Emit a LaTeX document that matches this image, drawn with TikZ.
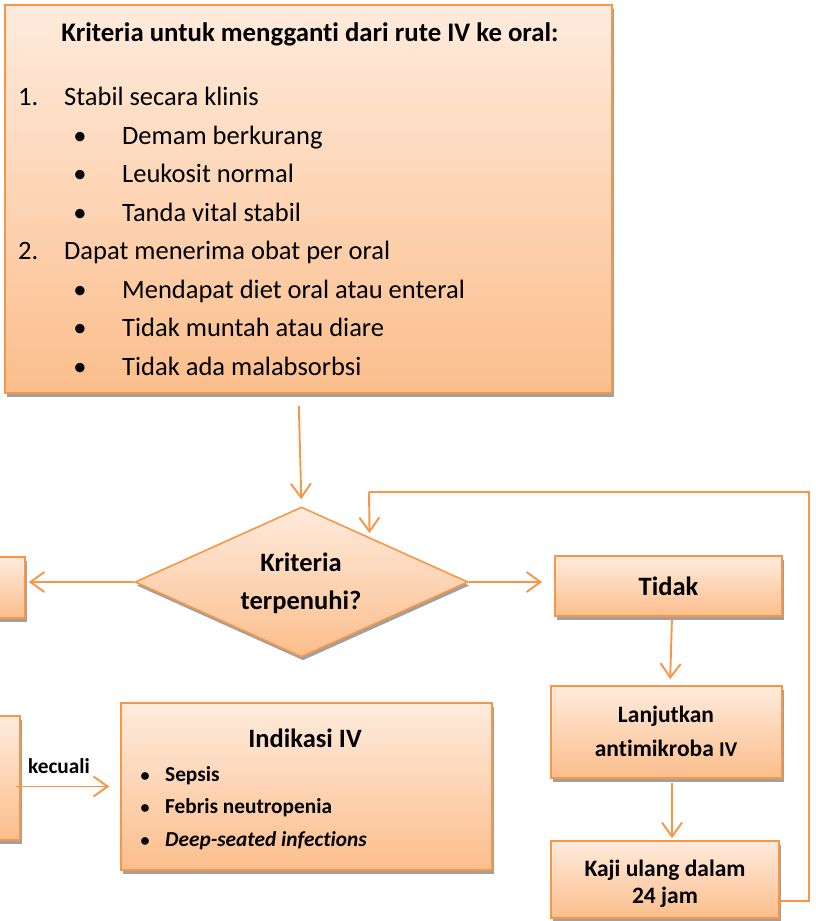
\documentclass[tikz,border=0pt]{standalone}
\usepackage{fontspec}
\setmainfont[Ligatures=NoCommon]{Carlito}
\usetikzlibrary{shapes.geometric,shadows,arrows.meta,calc}

\definecolor{edge}{HTML}{F79646}
\definecolor{peachtop}{HTML}{FEEBDD}
\definecolor{peachbot}{HTML}{FBBE8C}
\definecolor{shade}{HTML}{A0A0A0}

\newcommand\fsBody{\fontsize{26.5}{31}\selectfont}
\newcommand\fsHead{\fontsize{26.8}{31}\selectfont}
\newcommand\fsBox{\fontsize{23.5}{34}\selectfont}
\newcommand\fsSmall{\fontsize{21.3}{25}\selectfont}

\tikzset{
  card/.style={rectangle, draw=edge, line width=1.6pt, top color=peachtop,
    bottom color=peachbot, inner sep=0pt,
    drop shadow={shadow xshift=1.5pt, shadow yshift=-3.5pt, fill=shade, opacity=1}},
  decision/.style={diamond, draw=edge, line width=1.6pt, top color=peachtop,
    bottom color=peachbot, inner sep=0pt, aspect=2.22,
    drop shadow={shadow xshift=1.5pt, shadow yshift=-3.5pt, fill=shade, opacity=1}},
  flow/.style={draw=edge, line width=1.9pt,
    -{Straight Barb[length=14pt,width=20pt]}},
  loopline/.style={draw=edge, line width=1.9pt},
  txt/.style={inner sep=0pt, text=black},
}

\begin{document}
\begin{tikzpicture}[x=1pt, y=-1pt]
\useasboundingbox (0,0) rectangle (815,921);
\clip (0,0) rectangle (815,921);

% criteria box
\node[card, minimum width=607pt, minimum height=388pt] (crit) at (308.5,199) {};
\node[txt, anchor=base, font=\fsHead\bfseries] (ctitle) at (310,41)
  {Kriteria untuk mengganti dari rute IV ke oral:};
\node[txt, anchor=base west, font=\fsBody] (n1) at (18,105.5) {1.};
\node[txt, anchor=base west, font=\fsBody] (t1) at (64,105.5) {Stabil secara klinis};
\node[txt, anchor=base west, font=\fsBody] (n2) at (18,259.5) {2.};
\node[txt, anchor=base west, font=\fsBody] (t2) at (64,259.5) {Dapat menerima obat per oral};
\foreach \y/\s [count=\k] in {144/Demam berkurang, 182.5/Leukosit normal, 221/Tanda vital stabil,
    298/Mendapat diet oral atau enteral, 336.5/Tidak muntah atau diare, 375/Tidak ada malabsorbsi} {
  \node[txt, anchor=base, font=\fsBody] (bul\k) at (80,\y) {•};
  \node[txt, anchor=base west, font=\fsBody] (item\k) at (122,\y) {\s};
}

% decision
\node[decision, minimum width=333pt, minimum height=150pt] (dec) at (301.5,582) {};
\node[txt, anchor=base, font=\fsBody\bfseries] (dl1) at (301,571) {Kriteria};
\node[txt, anchor=base, font=\fsBody\bfseries] (dl2) at (301,609) {terpenuhi?};

% boxes on the left edge
\node[card, minimum width=100pt, minimum height=61pt] (yes) at (-25,587.5) {};
\node[card, minimum width=100pt, minimum height=124pt] (oral) at (-30,778) {};

% IV indications
\node[card, minimum width=371pt, minimum height=167pt] (indik) at (306.5,786.5) {};
\node[txt, anchor=base, font=\fsBody\bfseries] (ititle) at (305,747) {Indikasi IV};
\foreach \y/\s [count=\k] in {781/Sepsis, 813/Febris neutropenia, 846/\textit{Deep-seated infections}} {
  \node[txt, anchor=base, font=\fontsize{18}{22}\selectfont\bfseries] (ib\k) at (145,\y) {•};
  \node[txt, anchor=base west, font=\fsSmall\bfseries] (it\k) at (165,\y) {\s};
}

% right column
\node[card, minimum width=227pt, minimum height=60pt] (tidak) at (668.5,586) {};
\node[txt, font=\fsBody\bfseries] (tidakt) at (668.5,586) {Tidak};
\node[card, minimum width=231pt, minimum height=92pt] (lanj) at (666.5,732) {};
\node[txt, anchor=base, font=\fsBox\bfseries] (lanj1) at (666,722) {Lanjutkan};
\node[txt, anchor=base, font=\fsBox\bfseries] (lanj2) at (666,756) {antimikroba {\fontsize{21}{24}\selectfont IV}};
\node[card, minimum width=228pt, minimum height=77pt] (kaji) at (665,879.5) {};
\node[txt, anchor=base, font=\fsBox\bfseries] (kaji1) at (665,876) {Kaji ulang dalam};
\node[txt, anchor=base, font=\fsBox\bfseries] (kaji2) at (665,903) {24 jam};

% connectors
\draw[flow, shorten <=12pt, shorten >=7pt] ([xshift=-10pt]crit.south) -- (dec.north);
\draw[flow, shorten >=3pt] (dec.west) -- (dec.west -| yes.east);
\draw[flow, shorten >=12pt] (dec.east) -- (dec.east -| tidak.west);
\draw[flow, shorten <=3pt, shorten >=6pt] ([xshift=3.5pt]tidak.south) -- ([xshift=3.5pt]lanj.north);
\draw[flow, shorten <=4pt, shorten >=2pt] ([xshift=5.5pt]lanj.south) -- ([xshift=7pt]kaji.north);
\draw[flow, shorten <=-5pt, shorten >=11pt] (oral.east |- indik.west) -- (indik.west);
\node[txt, font=\fsSmall\bfseries] (kec) at (59,766) {kecuali};

% loop back from the review box to the decision
\coordinate (lpA) at (809,901);
\coordinate (lpB) at (369,492);
\path (dec.north) -- (dec.east) coordinate[pos=0.407] (lpEnd);
\draw[loopline] (kaji.east |- lpA) -- (lpA) |- (lpB);
\draw[flow, shorten >=4pt] (lpB) -- (lpEnd);
\end{tikzpicture}
\end{document}
